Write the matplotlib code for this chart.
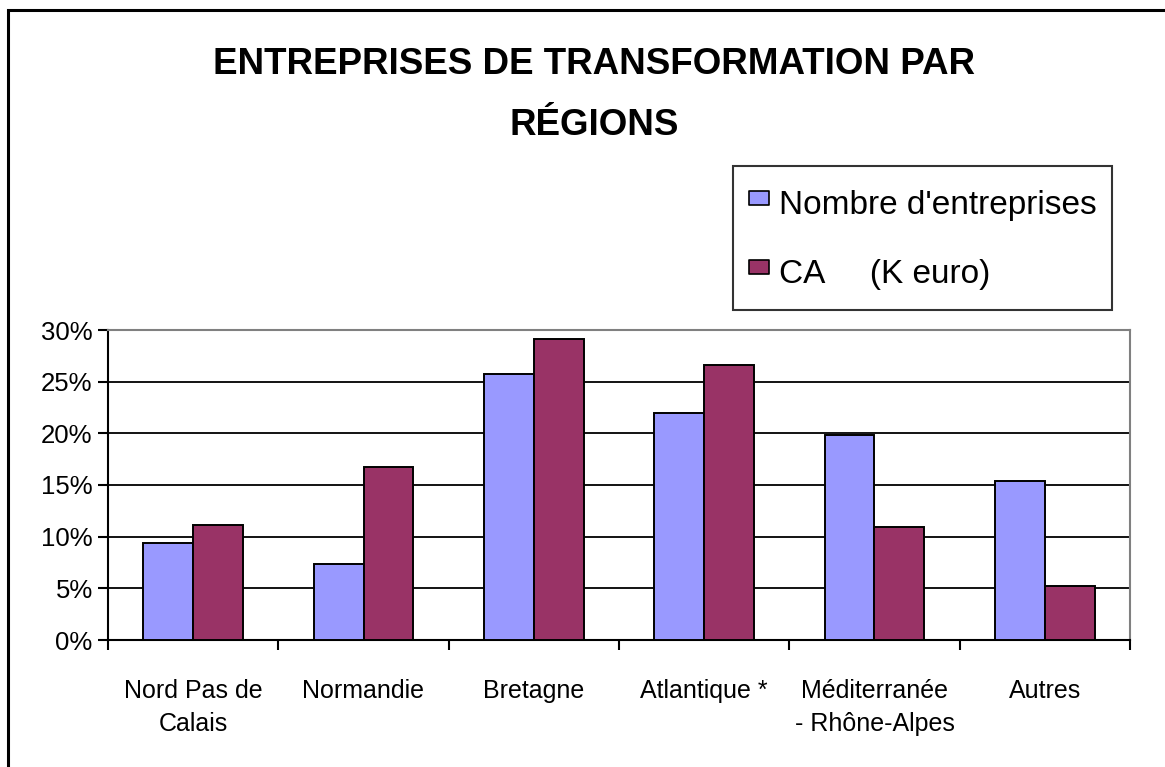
import matplotlib
matplotlib.use("Agg")
import matplotlib.pyplot as plt
from matplotlib.patches import Rectangle
from matplotlib.lines import Line2D
from matplotlib.path import Path
import numpy as np

regions = ["Nord Pas de\nCalais", "Normandie", "Bretagne", "Atlantique *",
           "Méditerranée\n- Rhône-Alpes", "Autres"]
nb_entreprises = [9.4, 7.4, 25.7, 22.0, 19.8, 15.4]
ca_keuro = [11.1, 16.7, 29.1, 26.6, 10.9, 5.2]
series_names = ["Nombre d'entreprises", "CA     (K euro)"]
yticks = [0, 5, 10, 15, 20, 25, 30]

plt.rcParams["font.family"] = ["Liberation Sans", "DejaVu Sans"]

W, H = 1165, 767
fig = plt.figure(figsize=(W / 100, H / 100), dpi=100)

# outer chart border (only top and left visible)
fig.patches.append(Rectangle((8 / W, -0.1), 1.2, 1.1 - 10 / H, transform=fig.transFigure,
                             fill=False, edgecolor="black", linewidth=2.2))

ax = fig.add_axes([108 / W, 1 - 640 / H, 1022 / W, 310 / H])

x = np.arange(len(regions))
bw = 0.293
ax.bar(x - bw / 2, nb_entreprises, bw, color="#9999FF", edgecolor="black", linewidth=1.4, zorder=3)
ax.bar(x + bw / 2, ca_keuro, bw, color="#993366", edgecolor="black", linewidth=1.4, zorder=3)

ax.set_xlim(-0.5, len(regions) - 0.5)
ax.set_ylim(0, 30)
ax.set_yticks(yticks)
ax.set_yticklabels([f"{v}%" for v in yticks], fontsize=18.5)
ax.yaxis.grid(True, color="black", linewidth=1.3, zorder=0)
ax.set_axisbelow(True)

ax.set_xticks(np.arange(len(regions) + 1) - 0.5)
ax.set_xticklabels([])
ax.set_xticks(x, minor=True)
ax.set_xticklabels(regions, minor=True, fontsize=18, linespacing=1.5)
ax.tick_params(axis="x", which="minor", length=0, pad=28)
ax.tick_params(axis="both", which="major", length=7, width=1.5, direction="out")
ax.tick_params(axis="y", pad=4)

for s in ["left", "bottom"]:
    ax.spines[s].set_color("black")
    ax.spines[s].set_linewidth(1.5)
for s in ["top", "right"]:
    ax.spines[s].set_color("#808080")
    ax.spines[s].set_linewidth(1.5)

fig.text(594 / W, 1 - 47 / H, "ENTREPRISES DE TRANSFORMATION PAR\nRÉGIONS",
         ha="center", va="top", fontsize=26.5, fontweight="bold",
         linespacing=1.95, transform=fig.transFigure)

# legend swatches: slightly wider than tall
rect = Path([(-0.7, -0.5), (0.7, -0.5), (0.7, 0.5), (-0.7, 0.5), (-0.7, -0.5)],
            [Path.MOVETO, Path.LINETO, Path.LINETO, Path.LINETO, Path.CLOSEPOLY])
handles = [Line2D([], [], linestyle="none", marker=rect, markersize=15,
                  markerfacecolor=c, markeredgecolor="black", markeredgewidth=1.2)
           for c in ["#9999FF", "#993366"]]
leg = fig.legend(handles, series_names, loc="upper left",
                 bbox_to_anchor=(733 / W, 1 - 166 / H), fontsize=24,
                 frameon=True, fancybox=False, borderpad=0.45, labelspacing=0.72,
                 handlelength=0.63, handleheight=1.7, handletextpad=0.3, borderaxespad=0)
leg.get_frame().set_edgecolor("black")
leg.get_frame().set_linewidth(1.5)

fig.savefig("out.png", dpi=100)
